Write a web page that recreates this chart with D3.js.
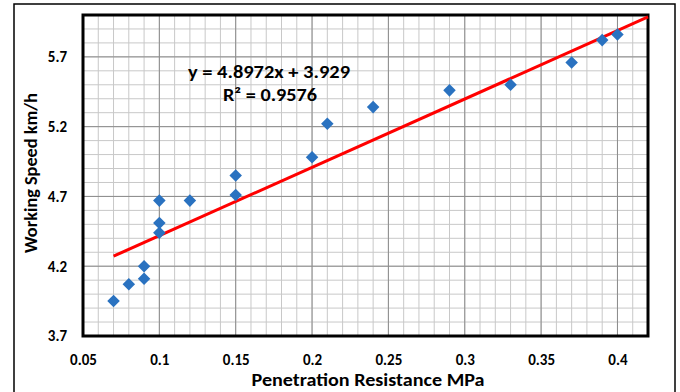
<!DOCTYPE html>
<html><head><meta charset="utf-8">
<script src="https://cdn.jsdelivr.net/npm/d3@7"></script>
<style>body{margin:0;background:#fff;}svg{display:block;}text{font-family:Carlito,Lato,"Open Sans",sans-serif;font-weight:bold;fill:#000;}</style>
</head><body>
<svg id="c" width="680" height="392"></svg>
<script>
const xValues = [0.07,0.08,0.09,0.09,0.10,0.10,0.10,0.12,0.15,0.15,0.20,0.21,0.24,0.29,0.33,0.37,0.39,0.40];
const yValues = [3.95,4.07,4.11,4.20,4.44,4.51,4.67,4.67,4.71,4.85,4.98,5.22,5.34,5.46,5.50,5.66,5.82,5.86];
const xTicks = [0.05,0.1,0.15,0.2,0.25,0.3,0.35,0.4];
const yTicks = [3.7,4.2,4.7,5.2,5.7];
const slope = 4.8972, intercept = 3.929;
const trendX = [0.07, 0.42];
const eqText = "y = 4.8972x + 3.929";
const r2Text = "R² = 0.9576";
const xTitle = "Penetration Resistance MPa";
const yTitle = "Working Speed km/h";

const svg = d3.select("#c");
const L=83, T=15, R=648, B=336;
const x = d3.scaleLinear().domain([0.05,0.42]).range([L,R]);
const y = d3.scaleLinear().domain([3.7,6.0]).range([B,T]);

svg.append("rect").attr("x",14).attr("y",4).attr("width",661).attr("height",400)
  .attr("fill","#fff").attr("stroke","#000").attr("stroke-width",1.5);

// grid
const g = svg.append("g");
const minorX = d3.range(0.05,0.4201,0.01).map(v=>+v.toFixed(3));
const minorY = d3.range(3.7,6.001,0.1).map(v=>+v.toFixed(2));
g.selectAll(".mx").data(minorX).enter().append("line")
  .attr("x1",d=>x(d)).attr("x2",d=>x(d)).attr("y1",T).attr("y2",B)
  .attr("stroke","#c8c8c8").attr("stroke-width",1);
g.selectAll(".my").data(minorY).enter().append("line")
  .attr("y1",d=>y(d)).attr("y2",d=>y(d)).attr("x1",L).attr("x2",R)
  .attr("stroke","#c8c8c8").attr("stroke-width",1);
g.selectAll(".Mx").data(xTicks).enter().append("line")
  .attr("x1",d=>x(d)).attr("x2",d=>x(d)).attr("y1",T).attr("y2",B)
  .attr("stroke","#8c8c8c").attr("stroke-width",1);
g.selectAll(".My").data(yTicks).enter().append("line")
  .attr("y1",d=>y(d)).attr("y2",d=>y(d)).attr("x1",L).attr("x2",R)
  .attr("stroke","#8c8c8c").attr("stroke-width",1);

// axes labels
const xa = svg.append("g").attr("transform",`translate(0,${B})`)
  .call(d3.axisBottom(x).tickValues(xTicks).tickSize(0).tickPadding(18).tickFormat(d=>String(d)));
xa.select(".domain").remove();
xa.selectAll("text").style("font-size","15px");
const ya = svg.append("g").attr("transform",`translate(${L},0)`)
  .call(d3.axisLeft(y).tickValues(yTicks).tickSize(0).tickPadding(16).tickFormat(d=>String(d)));
ya.select(".domain").remove();
ya.selectAll("text").style("font-size","15px");

// plot border
svg.append("rect").attr("x",L).attr("y",T).attr("width",R-L).attr("height",B-T)
  .attr("fill","none").attr("stroke","#000").attr("stroke-width",3);

// trendline
svg.append("line").attr("x1",x(trendX[0])).attr("y1",y(slope*trendX[0]+intercept))
  .attr("x2",x(trendX[1])).attr("y2",y(slope*trendX[1]+intercept))
  .attr("stroke","#ff0000").attr("stroke-width",3);

// points
const pts = xValues.map((v,i)=>[v,yValues[i]]);
svg.selectAll(".pt").data(pts).enter().append("path")
  .attr("d",d3.symbol().type(d3.symbolDiamond2).size(100))
  .attr("transform",d=>`translate(${x(d[0])},${y(d[1])})`)
  .attr("fill","#2a72c0");

// equation
svg.append("text").attr("x",269).attr("y",78).attr("text-anchor","middle").style("font-size","17.5px")
  .attr("textLength",162).attr("lengthAdjust","spacingAndGlyphs").text(eqText);
svg.append("text").attr("x",270).attr("y",101).attr("text-anchor","middle").style("font-size","17px")
  .attr("textLength",94).attr("lengthAdjust","spacingAndGlyphs").text(r2Text);

// titles
svg.append("text").attr("x",368).attr("y",386).attr("text-anchor","middle").style("font-size","18px")
  .attr("textLength",233).attr("lengthAdjust","spacingAndGlyphs").text(xTitle);
svg.append("text").attr("transform","translate(37,173) rotate(-90)").attr("text-anchor","middle").style("font-size","17px")
  .attr("textLength",160).attr("lengthAdjust","spacingAndGlyphs").text(yTitle);
</script>
</body></html>
